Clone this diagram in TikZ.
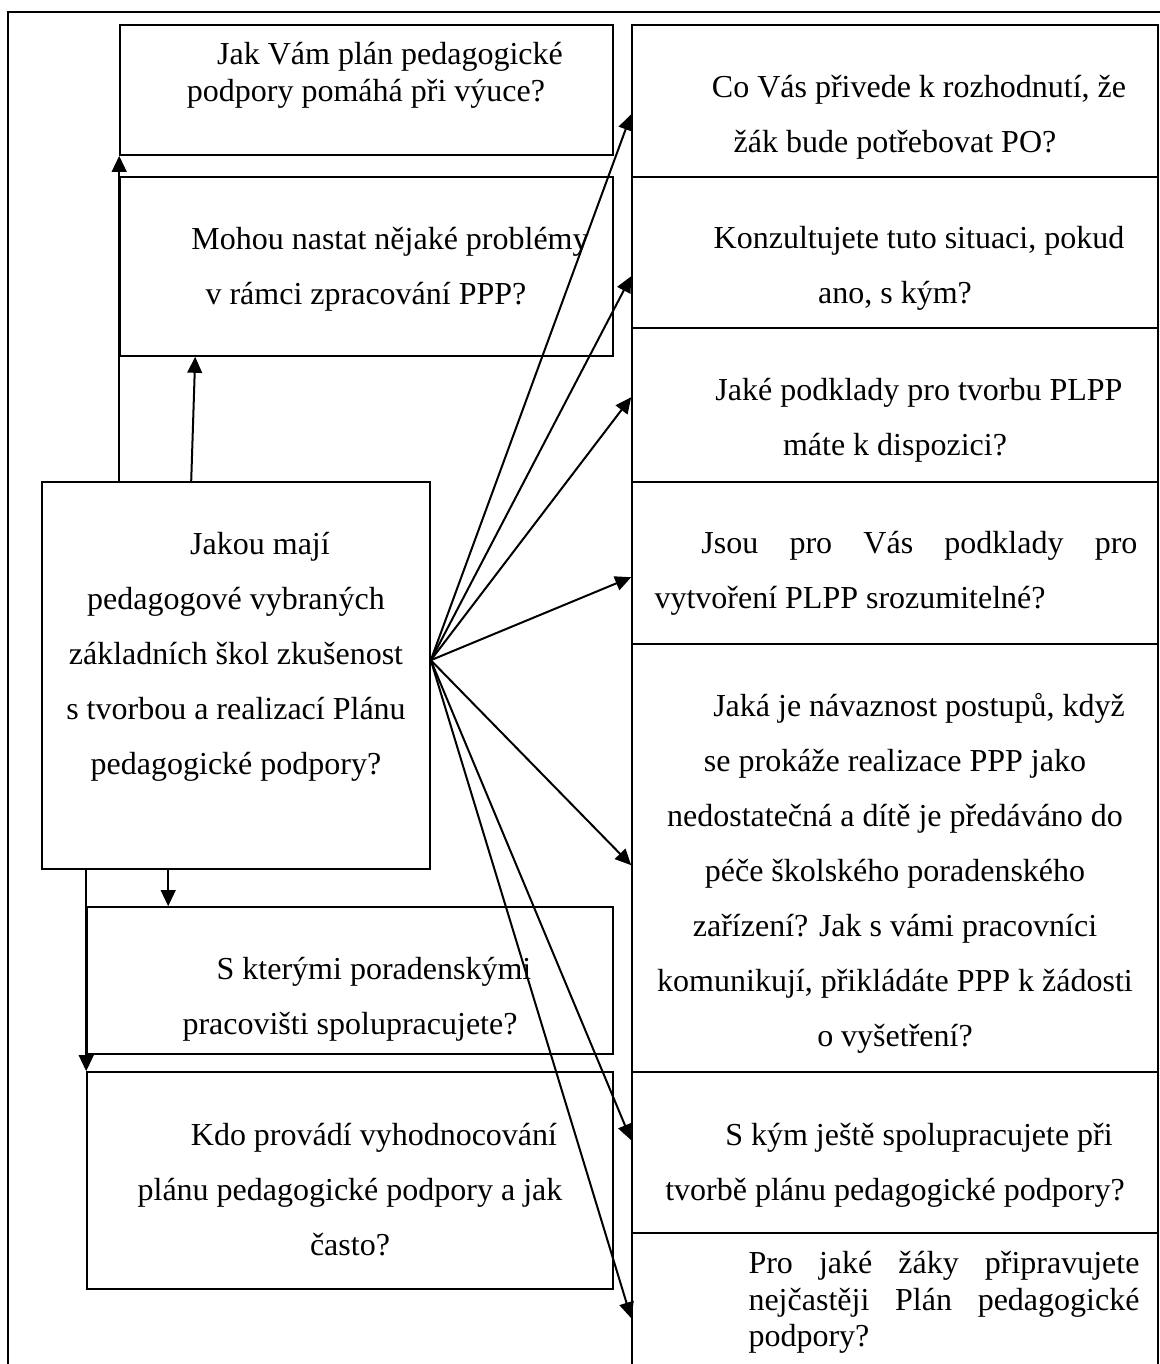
\documentclass[tikz,border=0pt]{standalone}
\usepackage{fontspec}
\setmainfont{Liberation Serif}
\usetikzlibrary{arrows.meta,calc,fit}
\newcommand\firstind{\hspace*{18pt}}
\newcommand\topstrut{\rule{0pt}{10pt}}
\begin{document}
\begin{tikzpicture}[x=0.375pt,y=-0.375pt,
  box/.style={draw,line width=0.6pt,inner sep=0pt},
  frameline/.style={line width=0.5pt},
  arr/.style={line width=0.75pt,-{Triangle[length=6pt,width=5.5pt]}},
  tx/.style={inner sep=0pt,anchor=north,align=center,font=\fontsize{12pt}{20.6pt}\selectfont},
  txs/.style={inner sep=0pt,anchor=north,align=center,font=\fontsize{12pt}{13.8pt}\selectfont},
  txj/.style={inner sep=0pt,anchor=north west,align=left,font=\fontsize{12pt}{20.6pt}\selectfont},
  txjs/.style={inner sep=0pt,anchor=north west,align=left,font=\fontsize{12pt}{13.7pt}\selectfont}]
\useasboundingbox (0,0) rectangle (1160,1364);
\draw[frameline] (8,1364) -- (8,12) -- (1160,12);

% left column boxes
\node[box,fit={(120,25) (613,155)}] (b1) {};
\node[box,fit={(120,177) (613,356)}] (b2) {};
\node[box,fit={(42,482) (430,869)}] (c) {};
\node[box,fit={(87,907) (613,1054)}] (b3) {};
\node[box,fit={(87,1072) (613,1289)}] (b4) {};
% right column boxes
\node[box,fit={(632,25) (1158,177)}] (r1) {};
\node[box,fit={(632,177) (1158,328)}] (r2) {};
\node[box,fit={(632,328) (1158,482)}] (r3) {};
\node[box,fit={(632,482) (1158,644)}] (r4) {};
\node[box,fit={(632,644) (1158,1072)}] (r5) {};
\node[box,fit={(632,1072) (1158,1233)}] (r6) {};
\node[box,fit={(632,1233) (1158,1400)}] (r7) {};

% texts
\node[txs] (t1) at (366,37.3) {\topstrut\firstind Jak Vám plán pedagogické\\podpory pomáhá při výuce?};
\node[tx] (t2) at (366,222.3) {\topstrut\firstind Mohou nastat nějaké problémy\\v rámci zpracování PPP?};
\node[tx] (tc) at (236,527.3) {\topstrut\firstind Jakou mají\\pedagogové vybraných\\základních škol zkušenost\\s tvorbou a realizací Plánu\\pedagogické podpory?};
\node[tx] (t3) at (350,952.3) {\topstrut\firstind S kterými poradenskými\\pracovišti spolupracujete?};
\node[tx] (t4) at (350,1118.3) {\topstrut\firstind Kdo provádí vyhodnocování\\plánu pedagogické podpory a jak\\často?};
\node[tx] (s1) at (895,70.3) {\topstrut\firstind Co Vás přivede k rozhodnutí, že\\žák bude potřebovat PO?};
\node[tx] (s2) at (895,221.3) {\topstrut\firstind Konzultujete tuto situaci, pokud\\ano, s kým?};
\node[tx] (s3) at (895,373.3) {\topstrut\firstind Jaké podklady pro tvorbu PLPP\\máte k dispozici?};
\node[txj] (s4) at (654,526.3) {\topstrut\hspace*{17.6pt}\hbox to 163.5pt{Jsou\hfill pro\hfill Vás\hfill podklady\hfill pro}\\vytvoření PLPP srozumitelné?};
\node[tx] (s5) at (895,689.3) {\topstrut\firstind Jaká je návaznost postupů, když\\se prokáže realizace PPP jako\\nedostatečná a dítě je předáváno do\\péče školského poradenského\\zařízení? Jak s vámi pracovníci\\komunikují, přikládáte PPP k žádosti\\o vyšetření?};
\node[tx] (s6) at (895,1118.3) {\topstrut\firstind S kým ještě spolupracujete při\\tvorbě plánu pedagogické podpory?};
\node[txjs] (s7) at (748,1246.3) {\topstrut\hbox to 146.6pt{Pro\hfill jaké\hfill žáky\hfill připravujete}\\\hbox to 146.6pt{nejčastěji\hfill Plán\hfill pedagogické}\\podpory?};

% vertical connectors
\draw[arr] (c.north -| b1.south west) -- (b1.south west);
\coordinate (u2s) at ($(c.north west)+(150,0)$);
\coordinate (u2e) at ($(b2.south west)+(76,0)$);
\draw[arr] (u2s) -- (u2e);
\coordinate (d1) at ($(c.south west)+(127,0)$);
\draw[arr] (d1) -- (d1 |- b3.north);
\draw[arr] (c.south -| b4.north west) -- (b4.north west);

% fan
\coordinate (o) at ($(c.north east)+(0,179)$);
\draw[arr] (o) -- ($(r1.north west)+(0,90)$);
\draw[arr] (o) -- ($(r2.north west)+(0,100)$);
\draw[arr] (o) -- ($(r3.north west)+(0,70)$);
\draw[arr] (o) -- ($(r4.north west)+(0,96)$);
\draw[arr] (o) -- ($(r5.north west)+(0,222)$);
\draw[arr] (o) -- ($(r6.north west)+(0,69)$);
\draw[arr] (o) -- ($(r7.north west)+(0,86)$);
\end{tikzpicture}
\end{document}
